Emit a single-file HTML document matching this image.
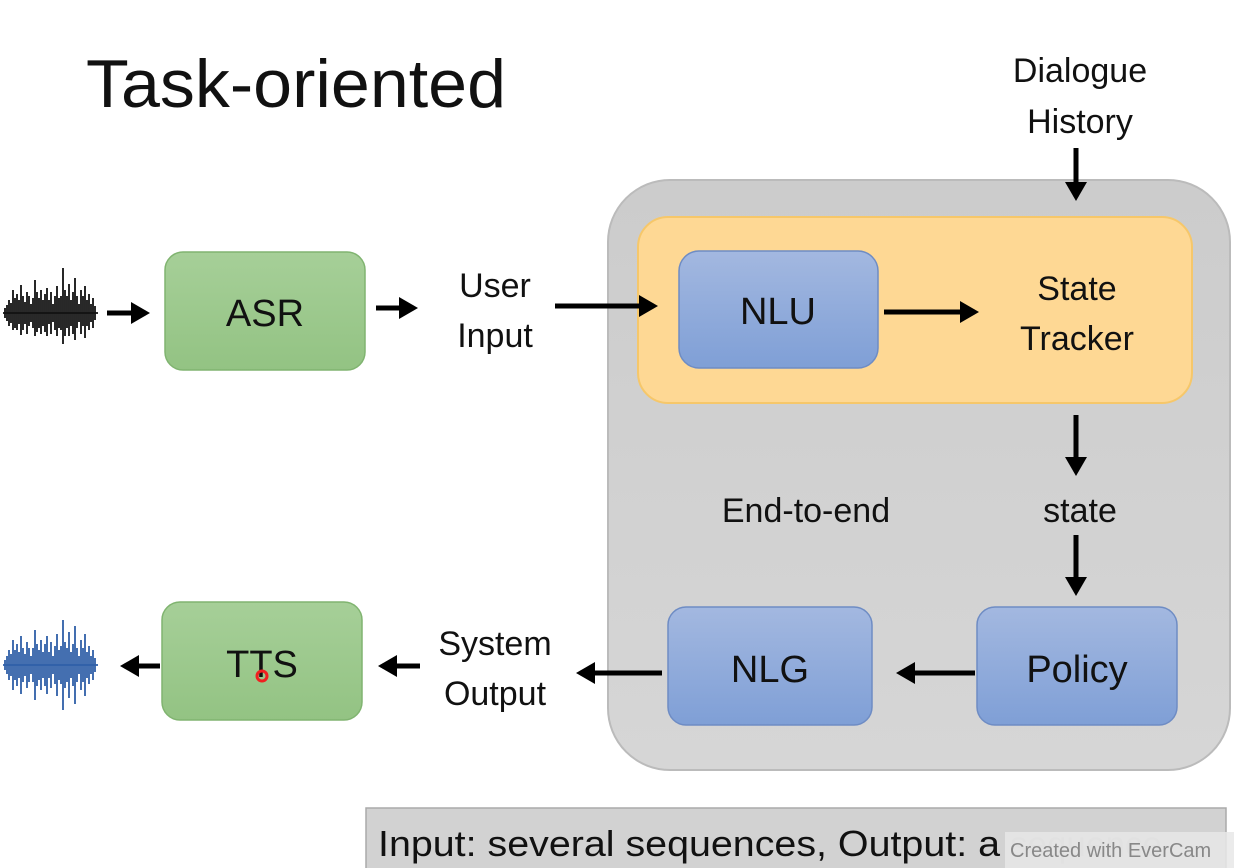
<!DOCTYPE html>
<html><head><meta charset="utf-8"><style>
html,body{margin:0;padding:0;background:#fff;width:1234px;height:868px;overflow:hidden}
svg{display:block}
text{font-family:"Liberation Sans",sans-serif;fill:#111}
</style></head><body>
<svg width="1234" height="868" viewBox="0 0 1234 868" xmlns="http://www.w3.org/2000/svg">
<defs>
<marker id="ah" markerWidth="5" markerHeight="5" refX="3" refY="2.2" orient="auto" markerUnits="strokeWidth"><path d="M0,0 L3.8,2.2 L0,4.4 Z" fill="#000"/></marker>
<linearGradient id="gb" x1="0" y1="0" x2="0" y2="1"><stop offset="0" stop-color="#a3b8e0"/><stop offset="1" stop-color="#7f9fd6"/></linearGradient>
<linearGradient id="gg" x1="0" y1="0" x2="0" y2="1"><stop offset="0" stop-color="#a6cf98"/><stop offset="1" stop-color="#93c383"/></linearGradient>
<linearGradient id="gy" x1="0" y1="0" x2="0" y2="1"><stop offset="0" stop-color="#ccc"/><stop offset="1" stop-color="#d6d6d6"/></linearGradient>
</defs>
<text x="86" y="107" font-size="68" textLength="420" lengthAdjust="spacingAndGlyphs">Task-oriented</text>

<rect x="608" y="180" width="622" height="590" rx="62" fill="url(#gy)" stroke="#bbb" stroke-width="2"/>
<rect x="638" y="217" width="554" height="186" rx="30" fill="#fed894" stroke="#f6c76a" stroke-width="2"/>
<rect x="679" y="251" width="199" height="117" rx="20" fill="url(#gb)" stroke="#6e8cc4" stroke-width="1.5"/>
<text x="778" y="324" font-size="38" text-anchor="middle">NLU</text>
<text x="1077" y="300" font-size="34" text-anchor="middle">State</text>
<text x="1077" y="350" font-size="34" text-anchor="middle">Tracker</text>
<text x="1080" y="82" font-size="34" text-anchor="middle">Dialogue</text>
<text x="1080" y="133" font-size="34" text-anchor="middle">History</text>
<text x="806" y="522" font-size="34" text-anchor="middle">End-to-end</text>
<text x="1080" y="522" font-size="34" text-anchor="middle">state</text>

<rect x="977" y="607" width="200" height="118" rx="18" fill="url(#gb)" stroke="#6e8cc4" stroke-width="1.5"/>
<text x="1077" y="682" font-size="38" text-anchor="middle">Policy</text>
<rect x="668" y="607" width="204" height="118" rx="18" fill="url(#gb)" stroke="#6e8cc4" stroke-width="1.5"/>
<text x="770" y="682" font-size="38" text-anchor="middle">NLG</text>

<rect x="165" y="252" width="200" height="118" rx="18" fill="url(#gg)" stroke="#80b470" stroke-width="1.5"/>
<text x="265" y="326" font-size="38" text-anchor="middle">ASR</text>
<rect x="162" y="602" width="200" height="118" rx="18" fill="url(#gg)" stroke="#80b470" stroke-width="1.5"/>
<text x="262" y="677" font-size="38" text-anchor="middle">TTS</text>
<circle cx="262" cy="676" r="5" fill="none" stroke="#f02020" stroke-width="3"/>

<text x="495" y="297" font-size="34" text-anchor="middle">User</text>
<text x="495" y="347" font-size="34" text-anchor="middle">Input</text>
<text x="495" y="655" font-size="34" text-anchor="middle">System</text>
<text x="495" y="705" font-size="34" text-anchor="middle">Output</text>

<g stroke="#000" stroke-width="5" fill="none" marker-end="url(#ah)">
<line x1="1076" y1="148" x2="1076" y2="197"/>
<line x1="884" y1="312" x2="975" y2="312"/>
<line x1="1076" y1="415" x2="1076" y2="472"/>
<line x1="1076" y1="535" x2="1076" y2="592"/>
<line x1="975" y1="673" x2="900" y2="673"/>
<line x1="662" y1="673" x2="580" y2="673"/>
<line x1="107" y1="313" x2="146" y2="313"/>
<line x1="376" y1="308" x2="414" y2="308"/>
<line x1="555" y1="306" x2="654" y2="306"/>
<line x1="420" y1="666" x2="382" y2="666"/>
<line x1="160" y1="666" x2="124" y2="666"/>
</g>

<g stroke="#111" stroke-width="1.8">
<path d="M3,313h95 M5,308v10 M7,305v16 M9,300v26 M11,303v20 M13,290v40 M15,298v30 M17,294v36 M19,300v24 M21,285v50 M23,296v34 M25,302v22 M27,292v42 M29,296v30 M31,304v18 M33,298v30 M35,280v56 M37,292v40 M39,298v30 M41,290v44 M43,300v26 M45,294v38 M47,288v48 M49,300v24 M51,292v42 M53,304v18 M55,296v34 M57,286v50 M59,298v30 M61,296v34 M63,268v76 M65,290v46 M67,296v32 M69,284v52 M71,300v26 M73,292v42 M75,278v62 M77,296v32 M79,304v18 M81,290v44 M83,296v30 M85,286v52 M87,300v26 M89,294v36 M91,304v18 M93,298v30 M95,306v14"/>
</g>
<g stroke="#2f5fa8" stroke-width="1.8">
<path d="M3,665h95 M5,660v10 M7,656v18 M9,650v30 M11,654v22 M13,640v50 M15,650v30 M17,644v42 M19,652v26 M21,636v58 M23,648v34 M25,654v22 M27,642v46 M29,648v34 M31,656v18 M33,648v34 M35,630v70 M37,644v42 M39,650v30 M41,640v50 M43,652v26 M45,644v42 M47,636v58 M49,652v26 M51,642v46 M53,656v18 M55,646v38 M57,634v62 M59,650v30 M61,646v38 M63,620v90 M65,642v46 M67,648v34 M69,632v66 M71,652v26 M73,644v42 M75,626v78 M77,648v34 M79,656v18 M81,640v50 M83,648v34 M85,634v62 M87,652v26 M89,646v38 M91,656v18 M93,650v30 M95,658v14"/>
</g>

<rect x="366" y="808" width="860" height="70" fill="#d2d2d2" stroke="#aaa" stroke-width="1.5"/>
<text x="378" y="856" font-size="36" textLength="622" lengthAdjust="spacingAndGlyphs">Input: several  sequences, Output: a</text>
<text x="1010" y="856" font-size="35" style="fill:#bcbcbc">sequence</text>
<rect x="1005" y="832" width="229" height="36" fill="#e8e8e8" opacity="0.85"/>
<text x="1010" y="857" font-size="20" style="fill:#888">Created with EverCam</text>
</svg>
</body></html>
